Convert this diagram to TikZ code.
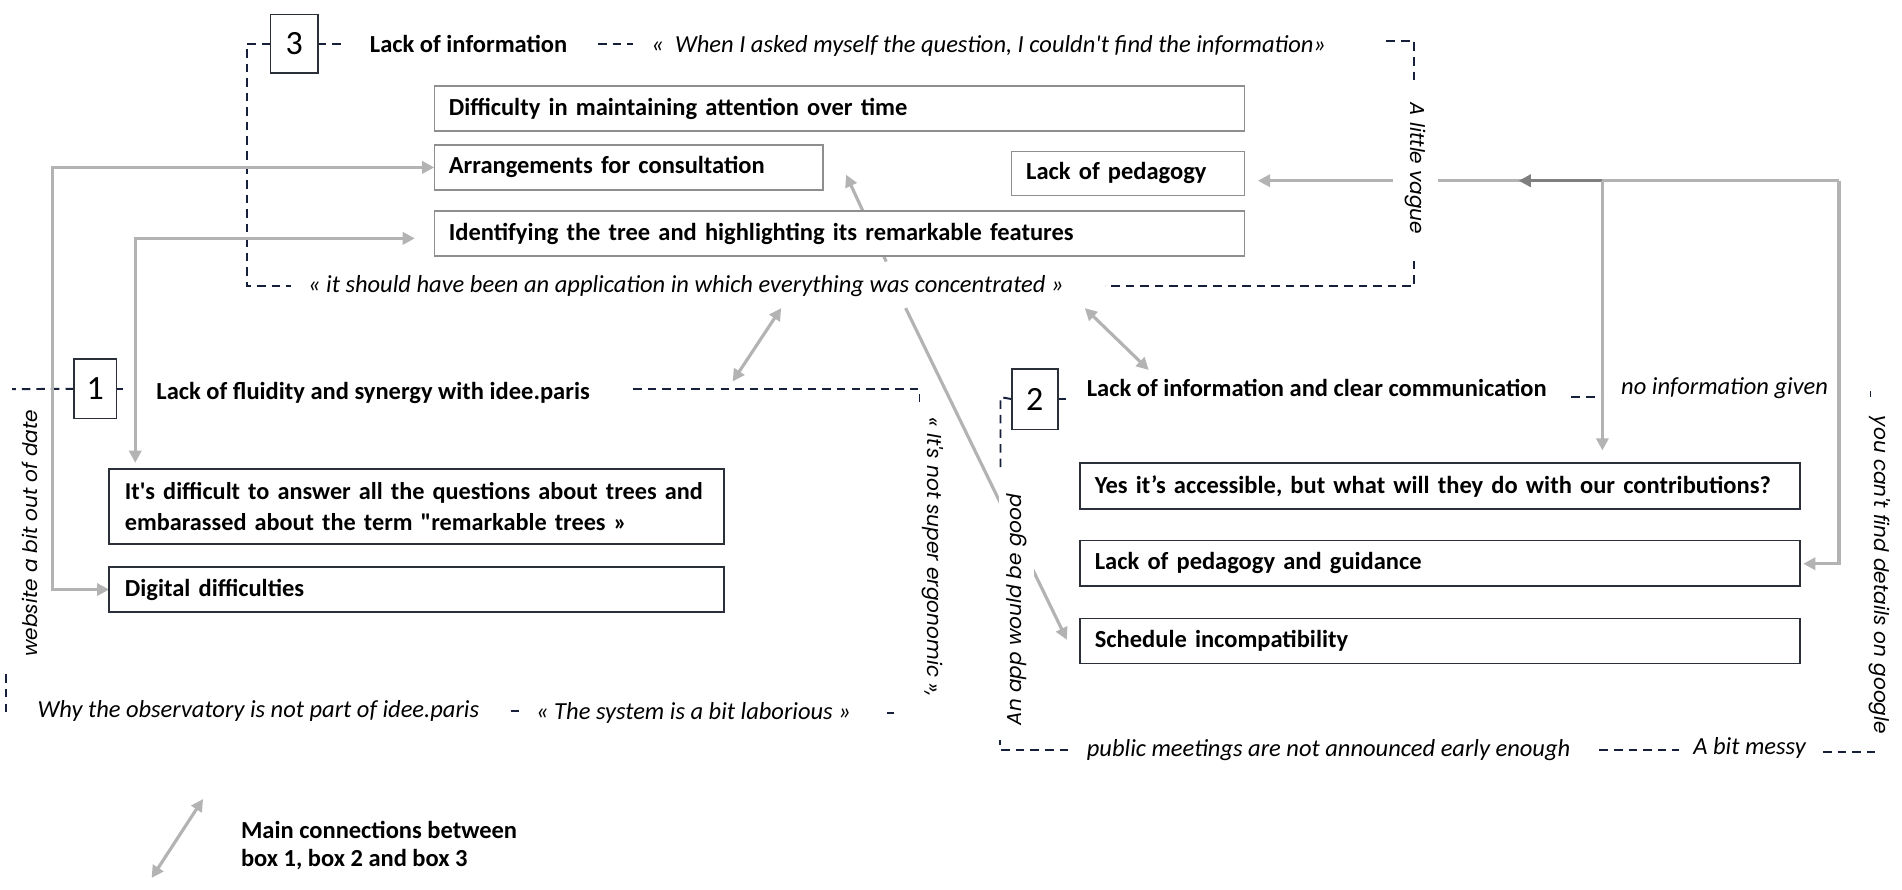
\documentclass[tikz,border=0pt]{standalone}
\usepackage{fontspec}
\setmainfont{Carlito}
\newfontfamily\carl{Carlito}
\newfontfamily\geofont{Poppins}
\usetikzlibrary{arrows.meta,calc,backgrounds}
\definecolor{arrgray}{HTML}{B3B3B3}
\definecolor{arrdark}{HTML}{7F7F7F}
\definecolor{dashcol}{HTML}{17203A}
\definecolor{boxgray}{HTML}{8E8E8E}
\definecolor{boxdark}{HTML}{2A2F3A}
\begin{document}
\begin{tikzpicture}[x=0.5pt,y=-0.5pt,
 every node/.style={inner sep=0pt,outer sep=0pt},
 boldf/.style={font=\carl\fontsize{10.1}{13}\selectfont\bfseries},
 itf/.style={font=\carl\fontsize{10.1}{12}\selectfont\itshape},
 title/.style={boldf,anchor=west},
 quote/.style={itf,anchor=west},
 rot/.style={font=\geofont\itshape\fontsize{8.3}{10}\selectfont,fill=white,inner xsep=4pt,inner ysep=2pt},
 numbox/.style={draw=boxdark,fill=white,line width=0.7pt,font=\carl\fontsize{14}{16}\selectfont},
 tbox/.style={draw=boxgray,fill=white,line width=0.6pt,anchor=north west,inner xsep=6pt,align=left,boldf},
 dbox/.style={tbox,draw=boxdark,line width=0.7pt},
 dl/.style={draw=dashcol,line width=0.8pt,dash pattern=on 3.5pt off 2.5pt},
 conn/.style={draw=arrgray,line width=1.3pt,-{Triangle[length=5pt,width=5pt]}},
 conn2/.style={draw=arrgray,line width=1.3pt,{Triangle[length=5pt,width=5pt]}-{Triangle[length=5pt,width=5pt]}},
]
\useasboundingbox (0,0) rectangle (1568,733.6);

% ---------- box 3 ----------
\node[numbox,minimum width=19.5pt,minimum height=24pt] (n3) at (242.5,36) {3};
\node[title] (t3) at (305,36) {Lack of information};
\node[quote] (q3a) at (537,38) {«\ \ When I asked myself the question, I couldn't find the information»};
\node[quote] (q3b) at (254,236) {« it should have been an application in which everything was concentrated »};
\node[tbox,text width=322pt,minimum height=18.5pt] (b3a) at (358,71) {Difficulty in maintaining attention over time};
\node[tbox,text width=148.25pt,minimum height=18.5pt] (b3b) at (358,119.5) {Arrangements for consultation};
\node[tbox,text width=84pt,minimum height=18pt] (b3c) at (834,125) {Lack of pedagogy};
\node[tbox,text width=322pt,minimum height=18.5pt] (b3d) at (358,174) {Identifying the tree and highlighting its remarkable features};
\node[rot,rotate=-90,inner xsep=9pt,inner ysep=5pt] (vague) at (1167,139) {A little vague};

% ---------- box 1 ----------
\node[numbox,minimum width=17.5pt,minimum height=24.5pt] (n1) at (78.5,320.5) {1};
\node[title] (t1) at (129,324) {Lack of fluidity and synergy with idee.paris};
\node[dbox,inner xsep=6.5pt,text width=240.5pt,minimum height=31pt,font=\carl\fontsize{10}{13}\selectfont\bfseries] (b1a) at (90,386.5) {It's difficult to answer all the questions about trees and\\embarassed about the term "remarkable trees »};
\node[dbox,inner xsep=6.5pt,text width=240.5pt,minimum height=18.5pt] (b1b) at (90,467.5) {Digital difficulties};
\node[rot,rotate=90] (web) at (25,439.5) {website a bit out of date};
\node[rot,rotate=-90] (ergo) at (769,459.5) {« It's not super ergonomic »,};
\node[quote] (why) at (31,586) {Why the observatory is not part of idee.paris};
\node[quote] (lab) at (442,588) {« The system is a bit laborious »};

% ---------- box 2 ----------
\node[numbox,minimum width=19pt,minimum height=25pt] (n2) at (853,329) {2};
\node[title] (t2) at (896,320) {Lack of information and clear communication};
\node[quote] (noinfo) at (1336.5,320) {no information given};
\node[dbox,text width=284.7pt,minimum height=19pt] (b2a) at (890.6,381.8) {Yes it’s accessible, but what will they do with our contributions?};
\node[dbox,text width=284.7pt,minimum height=18.75pt] (b2b) at (890.6,445.5) {Lack of pedagogy and guidance};
\node[dbox,text width=284.7pt,minimum height=18.5pt] (b2c) at (890.6,510) {Schedule incompatibility};
\node[rot,rotate=90,inner xsep=6pt,inner ysep=3pt] (app) at (838,502.5) {An app would be good};
\node[rot,rotate=-90] (google) at (1550,474) {you can't find details on google};
\node[quote] (pub) at (896,618) {public meetings are not announced early enough};
\node[quote] (messy) at (1396,617) {A bit messy};

% ---------- legend ----------
\node[font=\carl\fontsize{10.1}{11.7}\selectfont\bfseries,anchor=north west,align=left] (legtxt) at (198.7,677) {Main connections between\\box 1, box 2 and box 3};

% ---------- coordinates ----------
\coordinate (R1) at (1516,149);
\coordinate (J) at (1321,149);
\coordinate (qa) at (730.6,215.6);
\coordinate (qb) at (697.5,144);
\coordinate (d1a) at (644,254);
\coordinate (d1b) at (604,314.5);
\coordinate (d2a) at (894.3,254);
\coordinate (d2b) at (947,305);
\coordinate (lg1) at (746.6,254);
\coordinate (lg2) at (879.5,527.4);
\coordinate (lega) at (167.4,658.7);
\coordinate (legb) at (125,723.8);

\begin{pgfonlayer}{background}
\fill[white] (0,0) rectangle (1568,733.6);
% dashed brackets
\draw[dl] (n3.west) -- (203.5,36) -- (203.5,236) -- (240,236);
\draw[dl] (n3.east) -- (285,36);
\draw[dl] (493,36) -- (522,36);
\draw[dl] (1143,34) -- (1166,34) -- (1166,236) -- (911,236);
\draw[dl] (n1.west) -- (10,320.8);
\draw[dl] (n1.east) -- ++(5,0);
\draw[dl] (522,321) -- (758,321) -- (758,331);
\draw[dl] (5,556) -- (5,592);
\draw[dl] (421,586) -- (428,586);
\draw[dl] (731,588) -- (737,588);
\draw[dl] (n2.west) -- (824.8,327.4) -- (824.8,390);
\draw[dl] (n2.east) -- ++(7,0);
\draw[dl] (1295.5,327) -- (1321,327);
\draw[dl] (1542,322) -- (1542,327);
\draw[dl] (824.5,607) -- (824.5,618) -- (885,618);
\draw[dl] (1318.6,618) -- (1384,618);
\draw[dl] (1503,620) -- (1549,620);
% connectors
\draw[conn2] (b1b.west) -- ++(-46.6,0) |- (b3b.west);
\draw[conn2] ($(b1a.north west)+(21.5,-5)$) |- ($(b3d.west)+(-16,4)$);
\draw[conn] (qa) -- (qb);
\draw[conn] (R1) -- ($(b3c.east)+(11,6)$);
\draw[conn,draw=arrdark] (J) -- (1252,149);
\draw[conn] (J) -- ($(b2a.north -| J)+(0,-10.5)$);
\draw[conn] (R1) |- ($(b2b.east)+(2.6,0.5)$);
\draw[conn2] (d1a) -- (d1b);
\draw[conn2] (d2a) -- (d2b);
\draw[conn] (lg1) -- (lg2);
\draw[conn2] (lega) -- (legb);
\end{pgfonlayer}
\end{tikzpicture}
\end{document}
